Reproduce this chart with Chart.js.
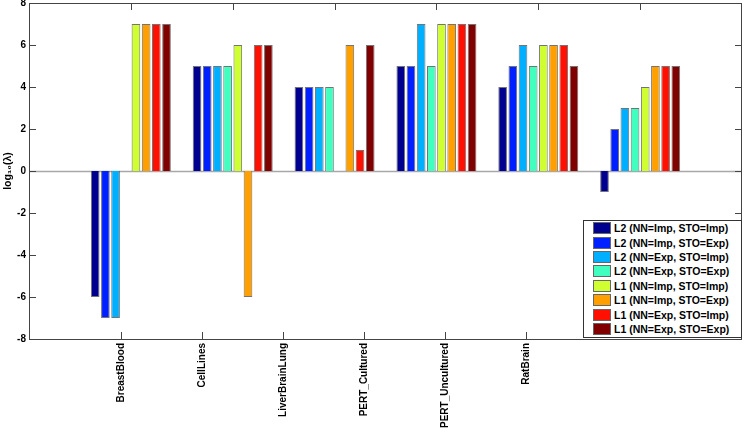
<!DOCTYPE html>
<html>
<head>
<meta charset="utf-8">
<script src="https://cdn.jsdelivr.net/npm/chart.js@4"></script>
<style>
  body { margin: 0; background: #fff; }
  #wrap { position: relative; width: 747px; height: 432px; }
  #legend {
    position: absolute; left: 583px; top: 220px; width: 157px; height: 116px;
    border: 1px solid #333; background: #fff;
    font: bold 10.5px "Liberation Sans", Arial, sans-serif; color: #000;
  }
  #legend div { height: 14.4px; display: flex; align-items: center; white-space: nowrap; }
  #legend span.sw { width: 18px; height: 12px; margin: 0 3px 0 9px; border: 1px solid #666; box-sizing: border-box; }
</style>
</head>
<body>
<div id="wrap">
  <canvas id="stats1" width="747" height="432"></canvas>
  <div id="legend"></div>
</div>
<script>
// groups along the x axis
const categories = ['BreastBlood', 'CellLines', 'LiverBrainLung', 'PERT_Cultured', 'PERT_Uncultured', 'RatBrain'];

// one entry per series, values per category (log10 of lambda)
const seriesNames = [
  'L2 (NN=Imp, STO=Imp)', 'L2 (NN=Imp, STO=Exp)', 'L2 (NN=Exp, STO=Imp)', 'L2 (NN=Exp, STO=Exp)',
  'L1 (NN=Imp, STO=Imp)', 'L1 (NN=Imp, STO=Exp)', 'L1 (NN=Exp, STO=Imp)', 'L1 (NN=Exp, STO=Exp)'
];
const l2ImpImp = [-6, 5, 4, 5, 4, -1];
const l2ImpExp = [-7, 5, 4, 5, 5, 2];
const l2ExpImp = [-7, 5, 4, 7, 6, 3];
const l2ExpExp = [0, 5, 4, 5, 5, 3];
const l1ImpImp = [7, 6, 0, 7, 6, 4];
const l1ImpExp = [7, -6, 6, 7, 6, 5];
const l1ExpImp = [7, 6, 1, 7, 6, 5];
const l1ExpExp = [7, 6, 6, 7, 5, 5];
const seriesValues = [l2ImpImp, l2ImpExp, l2ExpImp, l2ExpExp, l1ImpImp, l1ImpExp, l1ExpImp, l1ExpExp];

// jet colormap picks
const colors = ['#00008f', '#0020ff', '#00afff', '#40ffbf', '#cfff30', '#ff9f00', '#ff1000', '#800000'];
const yTicks = [-8, -6, -4, -2, 0, 2, 4, 6, 8];

const font = { family: '"Liberation Sans", Arial, sans-serif', weight: 'bold', size: 10 };

// matlab style box, inward ticks, zero baseline
const boxPlugin = {
  id: 'box',
  beforeDatasetsDraw(chart) {
    const { ctx, chartArea: a, scales } = chart;
    const y0 = Math.round(scales.y.getPixelForValue(0)) + 0.5;
    ctx.save();
    ctx.strokeStyle = '#a8a8a8';
    ctx.lineWidth = 1.5;
    ctx.beginPath(); ctx.moveTo(a.left, y0); ctx.lineTo(a.right, y0); ctx.stroke();
    ctx.restore();
  },
  afterDraw(chart) {
    const { ctx, chartArea: a, scales } = chart;
    const len = 7;
    ctx.save();
    ctx.strokeStyle = '#444';
    ctx.lineWidth = 1;
    ctx.strokeRect(a.left + 0.5, a.top + 0.5, a.right - a.left - 1, a.bottom - a.top);
    ctx.beginPath();
    yTicks.forEach(v => {
      const p = Math.round(scales.y.getPixelForValue(v)) + 0.5;
      ctx.moveTo(a.left, p); ctx.lineTo(a.left + len, p);
      ctx.moveTo(a.right, p); ctx.lineTo(a.right - len, p);
    });
    categories.forEach((c, i) => {
      const pt = Math.round(scales.x.getPixelForValue(i + 1)) + 0.5;
      ctx.moveTo(pt, a.top); ctx.lineTo(pt, a.top + len);
      const pb = Math.round(scales.x2.getPixelForValue(i + 1)) + 0.5;
      ctx.moveTo(pb, a.bottom); ctx.lineTo(pb, a.bottom - len);
    });
    ctx.stroke();
    ctx.restore();
  }
};

const ctx1 = document.getElementById('stats1').getContext('2d');
const chart1 = new Chart(ctx1, {
  type: 'bar',
  data: {
    datasets: seriesNames.map((name, k) => ({
      label: name,
      data: seriesValues[k].map((v, i) => ({ x: i + 1, y: v })),
      backgroundColor: colors[k],
      borderColor: 'rgba(70,70,70,0.75)',
      borderWidth: 1,
      categoryPercentage: 0.8,
      barPercentage: 0.85
    }))
  },
  options: {
    responsive: false,
    animation: false,
    layout: { padding: { top: 3, right: 5, left: 0, bottom: 0 } },
    plugins: { legend: { display: false }, tooltip: { enabled: false } },
    scales: {
      x: { type: 'linear', min: 0, max: 7, offset: false, display: false },
      x2: {
        type: 'linear', position: 'bottom', min: -0.136, max: 8.67, offset: false,
        grid: { display: false, drawTicks: false }, border: { display: false },
        afterBuildTicks: s => { s.ticks = categories.map((c, i) => ({ value: i + 1 })); },
        afterFit: s => { s.height = 93; s.paddingLeft = 0; s.paddingRight = 0; },
        ticks: {
          autoSkip: false, minRotation: 90, maxRotation: 90, padding: 4,
          color: '#000', font: font,
          callback: v => categories[v - 1] || ''
        }
      },
      y: {
        min: -8, max: 8,
        afterBuildTicks: s => { s.ticks = yTicks.map(v => ({ value: v })); },
        afterFit: s => { s.width = 29; s.paddingTop = 0; s.paddingBottom = 0; },
        grid: { display: false, drawTicks: false }, border: { display: false },
        ticks: { color: '#000', font: font, padding: 3 },
        title: { display: true, text: 'log\u2081\u2080(\u03bb)', color: '#000', font: { family: font.family, weight: 'bold', size: 10.5 }, padding: { top: 2, bottom: 0 } }
      }
    }
  },
  plugins: [boxPlugin]
});

// legend box in the lower right corner of the axes
const legendEl = document.getElementById('legend');
seriesNames.forEach((name, k) => {
  const row = document.createElement('div');
  row.innerHTML = '<span class="sw" style="background:' + colors[k] + '"></span>' + name;
  legendEl.appendChild(row);
});
</script>
</body>
</html>
